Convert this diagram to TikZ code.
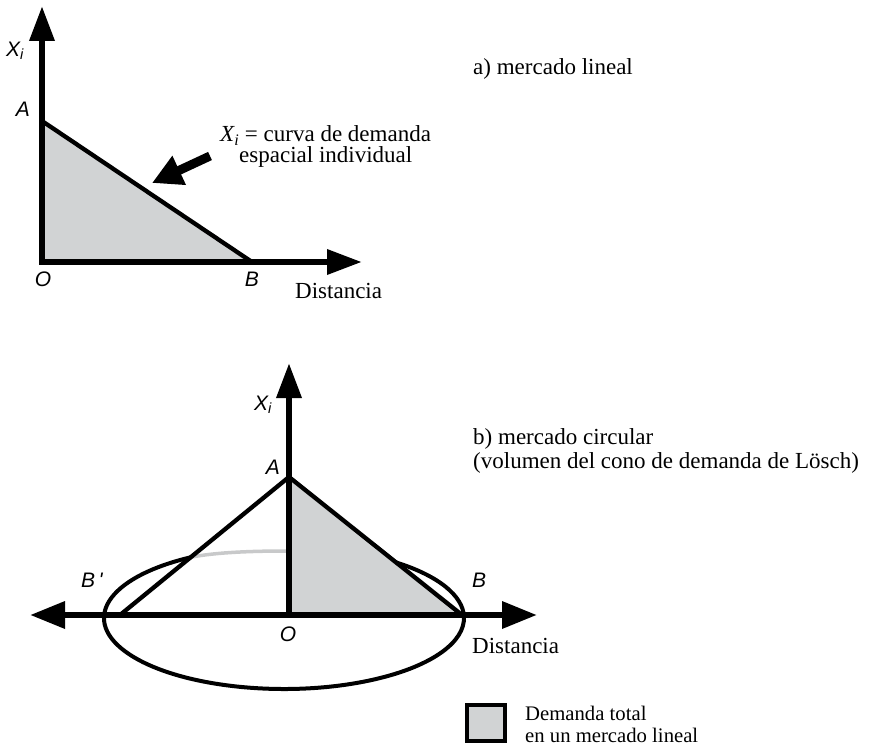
\documentclass[tikz,border=0pt]{standalone}
\usepackage{fontspec}
\setmainfont{Liberation Serif}
\newfontfamily\lblfont{Liberation Sans}
\usetikzlibrary{arrows.meta}
\definecolor{fillgray}{RGB}{209,211,212}
\definecolor{arcgray}{RGB}{200,201,202}
\begin{document}
\begin{tikzpicture}[x=1pt,y=-1pt,
  txt/.style={inner sep=0pt, anchor=base west, font=\fontsize{23}{26}\selectfont},
  lgd/.style={inner sep=0pt, anchor=base west, font=\fontsize{20.7}{23}\selectfont},
  lbl/.style={inner sep=0pt, font=\fontsize{21}{23}\selectfont\lblfont\itshape},
  axisline/.style={line width=6.5pt, line cap=rect, -{Triangle[length=35pt,width=24pt]}},
  biaxis/.style={line width=6.5pt, {Triangle[length=35pt,width=26pt]}-{Triangle[length=35pt,width=26pt]}},
  demand/.style={line width=4.3pt, line cap=round},
  pointer/.style={line width=9pt, -{Triangle[length=30pt,width=30pt]}},
  ellarc/.style={line width=4pt},
  backarc/.style={line width=3.5pt, draw=arcgray},
  boxfill/.style={fill=fillgray, draw=black, line width=4pt}
]
\useasboundingbox (0,0) rectangle (870,746);

% ---------- a) linear market ----------
\coordinate (O1) at (42,262);
\coordinate (A1) at (42,121);
\coordinate (B1) at (252,262);
\coordinate (Y1) at (42,6);
\coordinate (X1) at (362,262);
\coordinate (P1) at (210,156);
\coordinate (P2) at (152,183);

\fill[fillgray] (O1) -- (A1) -- (B1) -- cycle;
\draw[demand] (A1) -- (B1);
\draw[axisline] (O1) -- (Y1);
\draw[axisline] (O1) -- (X1);
\draw[pointer] (P1) -- (P2);

\node[lbl] (lX1) at (15,51) {X\textsubscript{i}};
\node[lbl] (lA1) at (23,109) {A};
\node[lbl] (lO1) at (43,279) {O};
\node[lbl] (lB1) at (252,279) {B};

\node[txt] (curva) at (220,142) {{\itshape X}\textsubscript{\itshape i} = curva de demanda};
\node[txt] (espacial) at (239,163) {espacial individual};
\node[txt] (dist1) at (295,298) {Distancia};
\node[txt] (titA) at (473,75) {a) mercado lineal};

% ---------- b) circular market ----------
\coordinate (O2) at (289,615);
\coordinate (A2) at (289,477);
\coordinate (B2) at (462,615);
\coordinate (Bq) at (120,615);
\coordinate (Y2) at (289,363);
\coordinate (L2) at (30,615);
\coordinate (R2) at (537,615);
\coordinate (C2) at (284,618);
\path (C2) ++(121:180pt and 71pt) coordinate (Cx);
\coordinate (Gx) at (287,551);

\fill[fillgray] (O2) -- (A2) -- (B2) -- cycle;
\draw[backarc] (Cx) .. controls (215,552.5) and (250,551) .. (Gx);
\draw[ellarc] (Cx) arc[start angle=121, end angle=411.5, x radius=180pt, y radius=71pt];
\draw[demand] (A2) -- (Bq);
\draw[demand] (A2) -- (B2);
\draw[biaxis] (L2) -- (R2);
\draw[axisline] (O2) -- (Y2);

\node[lbl] (lX2) at (263,405) {X\textsubscript{i}};
\node[lbl] (lA2) at (273,467) {A};
\node[lbl] (lBp) at (92,580) {B\,'};
\node[lbl] (lB2) at (479,580) {B};
\node[lbl] (lO2) at (288,634) {O};

\node[txt] (dist2) at (472,653) {Distancia};
\node[txt] (titB) at (473,444) {b) mercado circular};
\node[txt] (titB2) at (473,468) {(volumen del cono de demanda de Lösch)};

% ---------- legend ----------
\draw[boxfill] (467,705) rectangle (505,741);
\node[lgd] (leg1) at (525,720) {Demanda total};
\node[lgd] (leg2) at (525,742) {en un mercado lineal};
\end{tikzpicture}
\end{document}
